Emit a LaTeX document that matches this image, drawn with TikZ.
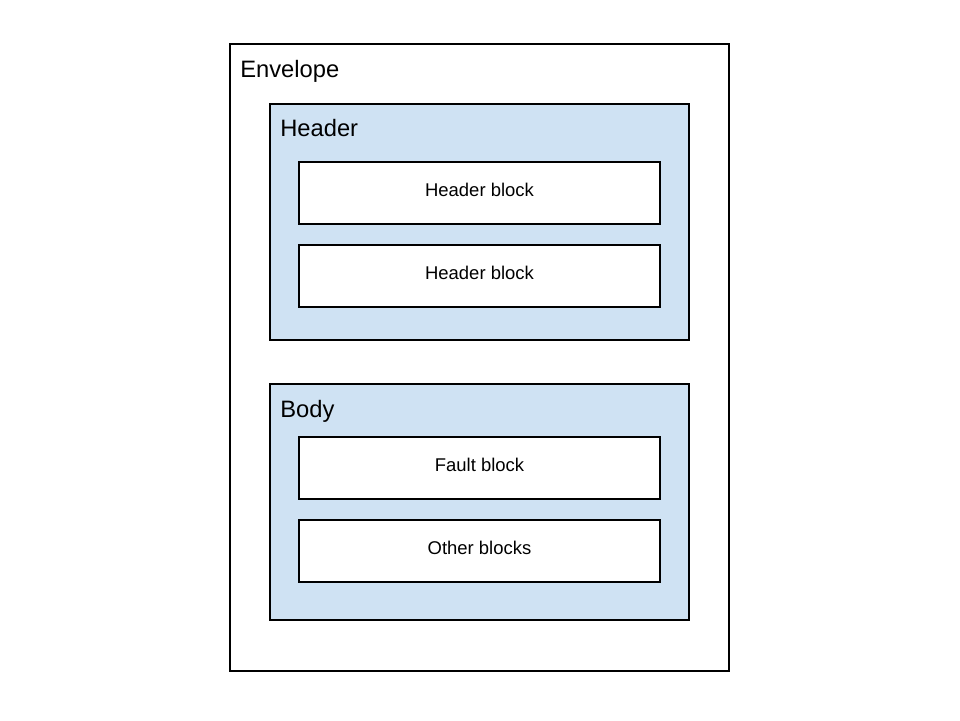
\documentclass[tikz,border=0pt]{standalone}
\usepackage{fontspec}
\setmainfont{Liberation Sans}
\definecolor{partblue}{HTML}{CFE2F3}
\tikzset{
    outerbox/.style={draw,line width=1pt,rectangle,minimum width=9.98cm,minimum height=12.54cm},
    partbox/.style={draw,line width=1pt,fill=partblue,rectangle,minimum width=8.38cm,minimum height=4.72cm},
    blockbox/.style={draw,line width=1pt,fill=white,rectangle,minimum width=7.22cm,minimum height=1.24cm,text depth=0.12cm,font=\fontsize{10.5}{12}\selectfont},
    boxtitle/.style={anchor=west,inner sep=0pt,font=\fontsize{13.5}{16}\selectfont}
}
\begin{document}
\begin{tikzpicture}
                \useasboundingbox (0,0) rectangle (19.2,14.4);
                %% envelope
                \node[outerbox] (Env) at (9.59,7.25) {};
                \node[boxtitle] (EnvT) at (4.8,12.98) {Envelope};
                %% header and body
                \node[partbox] (Hdr) at (9.59,9.96) {};
                \node[boxtitle] (HdrT) at (5.6,11.84) {Header};
                \node[partbox] (Bdy) at (9.59,4.36) {};
                \node[boxtitle] (BdyT) at (5.6,6.18) {Body};
                %% blocks
                \node[blockbox] (HB1) at (9.59,10.54) {Header block};
                \node[blockbox] (HB2) at (9.59,8.88) {Header block};
                \node[blockbox] (FB) at (9.59,5.04) {Fault block};
                \node[blockbox] (OB) at (9.59,3.38) {Other blocks};
            \end{tikzpicture}
\end{document}
